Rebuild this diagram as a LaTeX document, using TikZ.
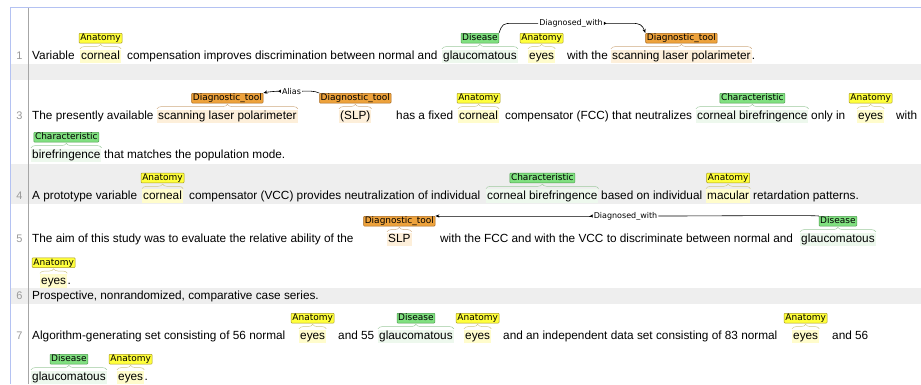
\documentclass[tikz,border=0pt]{standalone}
\usepackage{fontspec}
\setmainfont{Liberation Sans}
\newfontfamily\labfont{DejaVu Sans}
\usetikzlibrary{positioning,arrows.meta,decorations.pathreplacing}

\definecolor{marco}{HTML}{B4C2F2}
\definecolor{filagris}{HTML}{EEEEEE}
\definecolor{anatfill}{HTML}{FFFF3C}
\definecolor{anatbg}{HTML}{FFFCCC}
\definecolor{anatline}{HTML}{A89A20}
\definecolor{disfill}{HTML}{80E080}
\definecolor{disbg}{HTML}{EDF8ED}
\definecolor{disline}{HTML}{4E9E4E}
\definecolor{toolfill}{HTML}{EDA23C}
\definecolor{toolbg}{HTML}{FDEFDA}
\definecolor{toolline}{HTML}{A8681C}

\tikzset{
  txt/.style={anchor=base west, inner sep=0pt, font=\fontsize{11.8}{14}\selectfont},
  spn/.style={txt, inner xsep=1pt, inner ysep=1pt, text height=9pt, text depth=2.6pt},
  anat/.style={spn, fill=anatbg},
  dis/.style={spn, fill=disbg},
  tool/.style={spn, fill=toolbg},
  lab/.style={draw, line width=0.5pt, rounded corners=0.8pt, inner xsep=1.2pt, inner ysep=0.5pt,
    text height=6.9pt, text depth=1.9pt, font=\labfont\fontsize{9}{10}\selectfont},
  labanat/.style={lab, fill=anatfill, draw=anatline},
  labdis/.style={lab, fill=disfill, draw=disline},
  labtool/.style={lab, fill=toolfill, draw=toolline},
  brc/.style={decorate, decoration={brace, amplitude=4.5pt, raise=0.5pt}, line width=0.45pt},
  rel/.style={font=\labfont\fontsize{8}{9}\selectfont, inner sep=1pt},
  relarc/.style={line width=0.6pt},
  tips/.style={{Triangle[reversed,length=2.5pt,width=3pt]}-{Stealth[length=4pt,width=3.2pt]}},
  num/.style={anchor=base east, font=\fontsize{11}{12}\selectfont, text=gray!80},
  sep/.style={draw=gray!70, line width=0.6pt}
}

\begin{document}
\begin{tikzpicture}[x=1pt,y=-1pt]
  \useasboundingbox (0,0) rectangle (921,384);

  % Fondo y marco
  \fill[white] (0,0) rectangle (921,384);
  \fill[filagris] (10.5,64) rectangle (921,80);
  \fill[filagris] (10.5,164) rectangle (921,204);
  \fill[filagris] (10.5,288) rectangle (921,304);
  \draw[marco, line width=1pt] (10,384) -- (10,7) -- (921,7);
  \draw[sep] (28,7.5) -- (28,384);

  % Numeros de linea
  \node[num] (n1) at (26,59.5) {1};
  \node[num] (n3) at (26,119.5) {3};
  \node[num] (n4) at (26,199.3) {4};
  \node[num] (n5) at (26,242.5) {5};
  \node[num] (n6) at (26,299) {6};
  \node[num] (n7) at (26,339.5) {7};

  % Oracion 1
  \node[txt] (t1a) at (32,59.5) {Variable};
  \node[anat] (s1b) at (80,59.5) {corneal};
  \node[txt] (t1c) at (127,59.5) {compensation improves discrimination between normal and};
  \node[dis] (s1d) at (442,59.5) {glaucomatous};
  \node[anat] (s1e) at (528,59.5) {eyes};
  \node[txt] (t1f) at (567,59.5) {with the};
  \node[tool] (s1g) at (611,59.5) {scanning laser polarimeter};
  \node[txt] (t1h) at (s1g.base east) {.};
  \node[labanat, above=6pt of s1b] (l1b) {Anatomy};
  \node[labdis, above=6pt of s1d] (l1d) {Disease};
  \node[labanat, above=6pt of s1e] (l1e) {Anatomy};
  \node[labtool, above=6pt of s1g] (l1g) {Diagnostic\_tool};
  \node[rel] (r1) at (571,23.3) {Diagnosed\_with};
  \draw[relarc] (l1d.north east) .. controls +(3,-9) and +(-10,0) .. ([xshift=-25pt]r1.west) -- (r1.west);
  \draw[relarc, tips] (r1.east) -- ++(28,0) .. controls +(8,0) and +(-3,-8) .. (l1g.north west);

  % Oracion 3
  \node[txt] (t3a) at (32,119.5) {The presently available};
  \node[tool] (s3b) at (157,119.5) {scanning laser polarimeter};
  \node[tool] (s3c) at (339,119.5) {(SLP)};
  \node[txt] (t3d) at (396,119.5) {has a fixed};
  \node[anat] (s3e) at (458,119.5) {corneal};
  \node[txt] (t3f) at (505,119.5) {compensator (FCC) that neutralizes};
  \node[dis] (s3g) at (696,119.5) {corneal birefringence};
  \node[txt] (t3h) at (811,119.5) {only in};
  \node[anat] (s3i) at (857,119.5) {eyes};
  \node[txt] (t3j) at (896,119.5) {with};
  \node[dis] (s3k) at (31,158.5) {birefringence};
  \node[txt] (t3l) at (104,158.5) {that matches the population mode.};
  \node[labtool, above=6pt of s3b] (l3b) {Diagnostic\_tool};
  \node[labtool, above=6pt of s3c] (l3c) {Diagnostic\_tool};
  \node[labanat, above=6pt of s3e] (l3e) {Anatomy};
  \node[labdis, above=6pt of s3g] (l3g) {Characteristic};
  \node[labanat, above=6pt of s3i] (l3i) {Anatomy};
  \node[labdis, above=6pt of s3k] (l3k) {Characteristic};
  \node[rel] (r3) at (291.5,91.2) {Alias};
  \draw[relarc] (l3c.north west) .. controls +(-5,-2.5) and +(5,0) .. (r3.east);
  \draw[relarc, tips] (r3.west) .. controls +(-6,0) and +(4,-1) .. (l3b.north east);

  % Oracion 4
  \node[txt] (t4a) at (32,199.3) {A prototype variable};
  \node[anat] (s4b) at (142,199.3) {corneal};
  \node[txt] (t4c) at (189,199.3) {compensator (VCC) provides neutralization of individual};
  \node[dis] (s4d) at (486,199.3) {corneal birefringence};
  \node[txt] (t4e) at (601,199.3) {based on individual};
  \node[anat] (s4f) at (706,199.3) {macular};
  \node[txt] (t4g) at (753,199.3) {retardation patterns.};
  \node[labanat, above=6pt of s4b] (l4b) {Anatomy};
  \node[labdis, above=6pt of s4d] (l4d) {Characteristic};
  \node[labanat, above=6pt of s4f] (l4f) {Anatomy};

  % Oracion 5
  \node[txt] (t5a) at (32,242.5) {The aim of this study was to evaluate the relative ability of the};
  \node[tool] (s5b) at (387,242.5) {SLP};
  \node[txt] (t5c) at (440,242.5) {with the FCC and with the VCC to discriminate between normal and};
  \node[dis] (s5d) at (800,242.5) {glaucomatous};
  \node[anat] (s5e) at (40,284) {eyes};
  \node[txt] (t5f) at (s5e.base east) {.};
  \node[labtool, above=6pt of s5b] (l5b) {Diagnostic\_tool};
  \node[labdis, above=6pt of s5d] (l5d) {Disease};
  \node[labanat, above=6pt of s5e] (l5e) {Anatomy};
  \node[rel] (r5) at (625.5,216) {Diagnosed\_with};
  \draw[relarc] (l5d.north west) .. controls +(-8,-1) and +(60,0) .. (r5.east);
  \draw[relarc, tips] (r5.west) .. controls +(-140,0) and +(8,0) .. (l5b.north east);

  % Oracion 6
  \node[txt] (t6a) at (32,299) {Prospective, nonrandomized, comparative case series.};

  % Oracion 7
  \node[txt] (t7a) at (32,339.5) {Algorithm-generating set consisting of 56 normal};
  \node[anat] (s7b) at (299,339.5) {eyes};
  \node[txt] (t7c) at (338,339.5) {and 55};
  \node[dis] (s7d) at (378,339.5) {glaucomatous};
  \node[anat] (s7e) at (464,339.5) {eyes};
  \node[txt] (t7f) at (503,339.5) {and an independent data set consisting of 83 normal};
  \node[anat] (s7g) at (792,339.5) {eyes};
  \node[txt] (t7h) at (832,339.5) {and 56};
  \node[dis] (s7i) at (31,380.5) {glaucomatous};
  \node[anat] (s7j) at (117,380.5) {eyes};
  \node[txt] (t7k) at (s7j.base east) {.};
  \node[labanat, above=6pt of s7b] (l7b) {Anatomy};
  \node[labdis, above=6pt of s7d] (l7d) {Disease};
  \node[labanat, above=6pt of s7e] (l7e) {Anatomy};
  \node[labanat, above=6pt of s7g] (l7g) {Anatomy};
  \node[labdis, above=6pt of s7i] (l7i) {Disease};
  \node[labanat, above=6pt of s7j] (l7j) {Anatomy};

  % Llaves bajo las etiquetas
  \foreach \s/\c in {s1b/anatline, s1d/disline, s1e/anatline, s1g/toolline,
      s3b/toolline, s3c/toolline, s3e/anatline, s3g/disline, s3i/anatline, s3k/disline,
      s4b/anatline, s4d/disline, s4f/anatline,
      s5b/toolline, s5d/disline, s5e/anatline,
      s7b/anatline, s7d/disline, s7e/anatline, s7g/anatline, s7i/disline, s7j/anatline}
    \draw[brc, \c!55] (\s.north west) -- (\s.north east);
\end{tikzpicture}
\end{document}
